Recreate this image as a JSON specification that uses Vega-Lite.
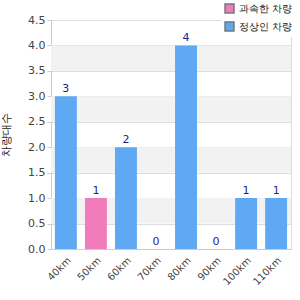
{
  "$schema": "https://vega.github.io/schema/vega-lite/v6.json",
  "autosize": "none",
  "width": 240,
  "height": 229,
  "padding": {"left": 51, "top": 20, "right": 9, "bottom": 51},
  "background": "white",
  "config": {"view": {"stroke": "#dddddd"}, "font": "DejaVu Sans"},
  "datasets": {
    "bars": [
      {"speed": "40km", "count": 3, "group": "정상인 차량"},
      {"speed": "50km", "count": 1, "group": "과속한 차량"},
      {"speed": "60km", "count": 2, "group": "정상인 차량"},
      {"speed": "70km", "count": 0, "group": "정상인 차량"},
      {"speed": "80km", "count": 4, "group": "정상인 차량"},
      {"speed": "90km", "count": 0, "group": "정상인 차량"},
      {"speed": "100km", "count": 1, "group": "정상인 차량"},
      {"speed": "110km", "count": 1, "group": "정상인 차량"}
    ],
    "bands": [
      {"lo": 0.5, "hi": 1.0},
      {"lo": 1.5, "hi": 2.0},
      {"lo": 2.5, "hi": 3.0},
      {"lo": 3.5, "hi": 4.0}
    ]
  },
  "layer": [
    {
      "data": {"name": "bands"},
      "mark": {"type": "rect", "color": "#f2f2f2"},
      "encoding": {
        "y": {
          "field": "lo", "type": "quantitative", "scale": {"domain": [0, 4.5]},
          "axis": {"title": "차량대수", "titleFontSize": 11, "titleFontWeight": "normal", "titleColor": "#222", "titlePadding": 16, "values": [0,0.5,1,1.5,2,2.5,3,3.5,4,4.5], "labelOverlap": false, "format": ".1f", "labelColor": "#444", "labelFontSize": 11, "gridColor": "#dddddd", "domainColor": "#cccccc", "tickColor": "#cccccc", "tickSize": 4}
        },
        "y2": {"field": "hi"}
      }
    },
    {
      "data": {"name": "bars"},
      "mark": {"type": "bar"},
      "encoding": {
        "x": {
          "field": "speed", "type": "nominal", "sort": null,
          "scale": {"paddingInner": 0.27, "paddingOuter": 0.13},
          "axis": {"title": null, "labelAngle": -45, "labelColor": "#444", "labelFontSize": 10, "domainColor": "#cccccc", "ticks": false, "labelPadding": 6}
        },
        "y": {
          "field": "count", "type": "quantitative",
          "scale": {"domain": [0, 4.5]},
          "axis": {"title": "차량대수", "titleFontSize": 11, "titleFontWeight": "normal", "titleColor": "#222", "titlePadding": 16, "values": [0,0.5,1,1.5,2,2.5,3,3.5,4,4.5], "labelOverlap": false, "format": ".1f", "labelColor": "#444", "labelFontSize": 11, "gridColor": "#dddddd", "domainColor": "#cccccc", "tickColor": "#cccccc", "tickSize": 4}
        },
        "color": {
          "field": "group", "type": "nominal",
          "scale": {"domain": ["과속한 차량", "정상인 차량"], "range": ["#f07cbb", "#5fa8f3"]},
          "legend": {"title": null, "orient": "none", "legendX": 170, "legendY": -20, "fillColor": "white", "padding": 3, "symbolType": "square", "symbolStrokeColor": "#777", "symbolStrokeWidth": 1.5, "symbolSize": 80, "labelFontSize": 10, "labelColor": "#111", "rowPadding": 3}
        }
      }
    },
    {
      "data": {"name": "bars"},
      "mark": {"type": "text", "dy": -7, "color": "#1f1f8a", "fontSize": 11},
      "encoding": {
        "x": {"field": "speed", "type": "nominal", "sort": null},
        "y": {
          "field": "count", "type": "quantitative",
          "axis": {"title": "차량대수", "titleFontSize": 11, "titleFontWeight": "normal", "titleColor": "#222", "titlePadding": 16, "values": [0,0.5,1,1.5,2,2.5,3,3.5,4,4.5], "labelOverlap": false, "format": ".1f", "labelColor": "#444", "labelFontSize": 11, "gridColor": "#dddddd", "domainColor": "#cccccc", "tickColor": "#cccccc", "tickSize": 4}
        },
        "text": {"field": "count", "type": "quantitative"}
      }
    }
  ]
}
